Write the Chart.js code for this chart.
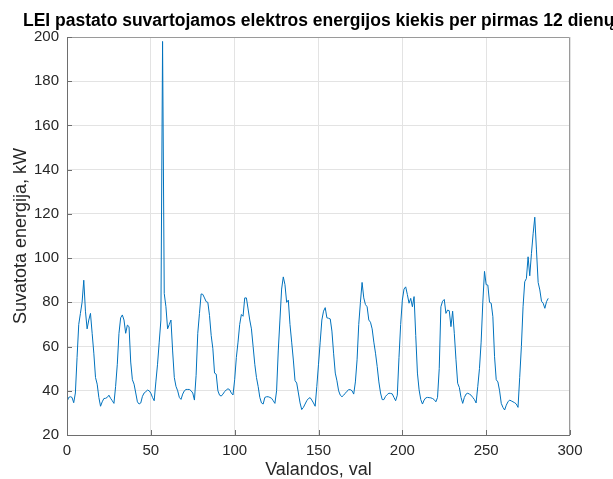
<!DOCTYPE html>
<html>
<head>
<meta charset="utf-8">
<script src="https://cdn.jsdelivr.net/npm/chart.js@4.4.1/dist/chart.umd.min.js"></script>
<style>
    html, body { margin: 0; padding: 0; background: #fff; overflow: hidden; }
    #chart { display: block; }
</style>
</head>
<body>
<canvas id="chart" width="613" height="479"></canvas>
<script>
// suvartota energija kas valanda, kW (12 dienu x 24 val)
const energyKw = [
    35, 37, 37.3, 37, 34.6, 39, 55, 70, 75, 80, 90, 76, 68, 72, 75, 66, 57, 46, 43, 37, 33, 35, 36.5, 36.6,
    37, 38, 36.6, 35.5, 34.3, 42, 52, 66, 73, 74.3, 72, 66, 69.7, 69, 53, 45, 43, 39, 35, 34, 34.5, 37.5, 39, 39.6,
    40.3, 40, 38.9, 37, 35.5, 44, 52, 62, 72, 198, 84, 78, 68, 70, 72, 58, 46, 42, 40, 37, 36.1, 38.5, 40, 40.6,
    40.6, 40.6, 40, 39, 35.8, 47, 66, 75, 83.8, 83.6, 82, 80.3, 80, 74, 65, 59, 48, 47.5, 40, 38, 37.6, 38.5, 39.6, 40.4,
    40.9, 40.5, 39, 38.1, 45, 55, 62, 70, 74.5, 73.7, 82, 82, 77, 72, 68, 60, 52, 46, 42, 37, 34.5, 34, 37, 37.3,
    37.3, 37, 36.6, 35.5, 34.3, 40, 58, 72, 86, 91.5, 88, 80, 81, 70, 62, 53.9, 44.6, 43.5, 39, 34.5, 31.5, 32.5, 34, 35.5,
    36.5, 36.9, 35.8, 34.5, 33, 42, 52, 62, 72, 76, 77.6, 73, 72.8, 72.5, 67, 57, 48, 44.5, 40, 38, 37.3, 38, 38.9, 39.8,
    40.5, 40.5, 40, 38.5, 44, 54, 70, 80, 89, 82, 79, 78, 72, 71, 68, 62, 57, 51, 44, 39, 36, 36, 37.5, 38.3,
    38.9, 38.8, 38.6, 37, 35.5, 38, 55, 70, 81, 86, 87, 83.5, 79.6, 81.8, 78, 82.6, 65, 48, 40.4, 36, 34, 35.8, 36.8, 37,
    36.9, 36.8, 36.5, 36, 35, 37, 50, 78, 80.5, 81.3, 75, 76.5, 76.2, 69, 76, 66, 54, 43.4, 41.5, 37, 34.3, 37, 38.5, 38.9,
    38.5, 38, 37, 36, 34.5, 42, 50, 62, 80, 94, 88, 87.8, 80, 79.6, 73.5, 55.4, 45, 44, 40, 34.3, 32.5, 31.3, 33.5, 35,
    35.8, 35.4, 35, 34.6, 34, 32.5, 46, 60, 78, 89.3, 90.8, 100.6, 92, 102, 111, 118.5, 103.7, 89, 85.6, 80.5, 79.6, 77.3, 80.3, 81.8
];
const xTicks = [0, 50, 100, 150, 200, 250, 300];
const yTicks = [20, 40, 60, 80, 100, 120, 140, 160, 180, 200];

const chartTitle = 'LEI pastato suvartojamos elektros energijos kiekis per pirmas 12 dienų';
const fontName = '"Liberation Sans", Arial, Helvetica, sans-serif';
const textColor = '#262626';

// pavadinimas kaireje, kaip matlabe (nukerpamas desineje)
const titlePlugin = {
    id: 'matlabTitle',
    afterDraw(chart) {
        const ctx = chart.ctx;
        ctx.save();
        ctx.font = 'bold 17.5px ' + fontName;
        ctx.fillStyle = '#000';
        ctx.textBaseline = 'alphabetic';
        ctx.textAlign = 'left';
        ctx.fillText(chartTitle, 23, 26);
        ctx.restore();
    }
};

// asiu remelis ir vidiniai bruksneliai
const axesBoxPlugin = {
    id: 'axesBox',
    afterDatasetsDraw(chart) {
        const { ctx, chartArea: a, scales } = chart;
        ctx.save();
        ctx.lineWidth = 1;
        ctx.strokeStyle = '#9a9a9a';
        ctx.beginPath();
        ctx.moveTo(a.left + 0.5, a.top + 0.5);
        ctx.lineTo(a.right - 0.5, a.top + 0.5);
        ctx.lineTo(a.right - 0.5, a.bottom);
        ctx.stroke();
        ctx.strokeStyle = '#6e6e6e';
        ctx.beginPath();
        ctx.moveTo(a.left + 0.5, a.top);
        ctx.lineTo(a.left + 0.5, a.bottom + 0.5);
        ctx.lineTo(a.right, a.bottom + 0.5);
        yTicks.forEach(v => {
            const y = Math.round(scales.y.getPixelForValue(v)) + 0.5;
            ctx.moveTo(a.left, y);
            ctx.lineTo(a.left + 5, y);
        });
        xTicks.forEach(v => {
            const x = Math.round(scales.x.getPixelForValue(v)) + 0.5;
            ctx.moveTo(x, a.bottom);
            ctx.lineTo(x, a.bottom - 5);
        });
        ctx.stroke();
        ctx.restore();
    }
};

new Chart(document.getElementById('chart'), {
    type: 'line',
    data: {
        datasets: [{
            data: energyKw.map((v, i) => ({ x: i, y: v })),
            borderColor: '#0072BD',
            borderWidth: 1,
            pointRadius: 0,
            tension: 0,
            fill: false
        }]
    },
    options: {
        responsive: false,
        animation: false,
        layout: {
            padding: { top: 37, right: 43, left: 0, bottom: 0 }
        },
        plugins: {
            legend: { display: false },
            tooltip: { enabled: false },
            title: { display: false }
        },
        scales: {
            x: {
                type: 'linear',
                min: 0,
                max: 300,
                afterBuildTicks(scale) {
                    scale.ticks = xTicks.map(v => ({ value: v }));
                },
                afterFit(scale) {
                    scale.height = 44;
                },
                grid: { color: '#e3e3e3', drawTicks: false },
                border: { display: false },
                ticks: {
                    padding: 7,
                    color: textColor,
                    font: { family: fontName, size: 15 },
                    maxRotation: 0
                },
                title: {
                    display: true,
                    text: 'Valandos, val',
                    color: textColor,
                    font: { family: fontName, size: 18 },
                    padding: { top: 0, bottom: -2 }
                }
            },
            y: {
                type: 'linear',
                min: 20,
                max: 200,
                afterBuildTicks(scale) {
                    scale.ticks = yTicks.map(v => ({ value: v }));
                },
                afterFit(scale) {
                    scale.width = 67;
                },
                grid: { color: '#e3e3e3', drawTicks: false },
                border: { display: false },
                ticks: {
                    padding: 8,
                    color: textColor,
                    font: { family: fontName, size: 15 }
                },
                title: {
                    display: true,
                    text: 'Suvatota energija, kW',
                    color: textColor,
                    font: { family: fontName, size: 18 },
                    padding: { top: 10, bottom: 0 }
                }
            }
        }
    },
    plugins: [titlePlugin, axesBoxPlugin]
});
</script>
</body>
</html>
